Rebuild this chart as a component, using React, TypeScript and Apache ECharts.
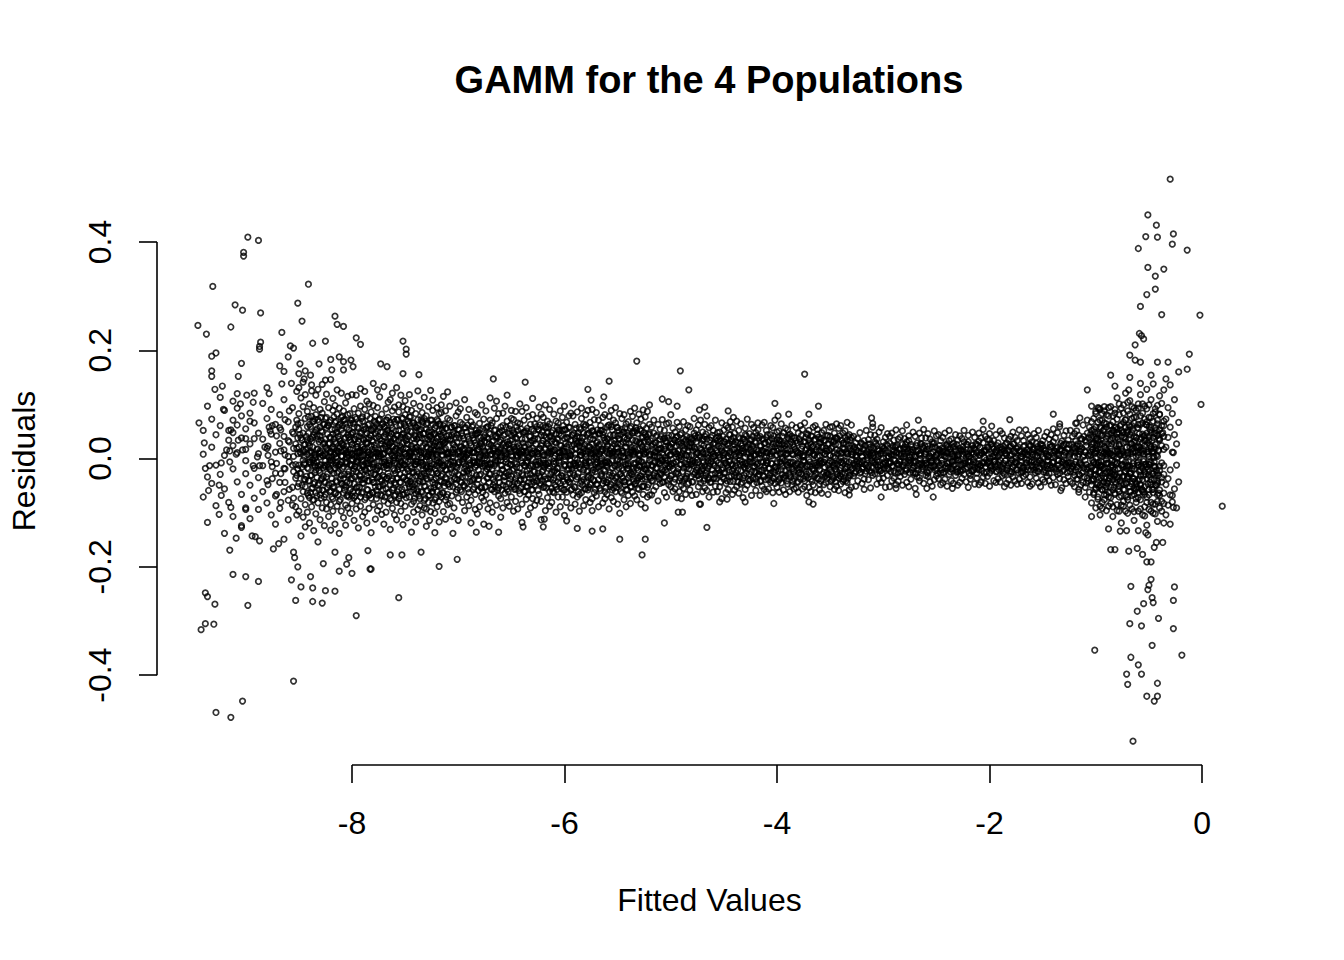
import React, { useEffect, useRef } from "react";
import * as echarts from "echarts";

const TITLE = "GAMM for the 4 Populations";
const X_NAME = "Fitted Values";
const Y_NAME = "Residuals";
const xTicks = [-8, -6, -4, -2, 0];
const yTicks = [-0.4, -0.2, 0, 0.2, 0.4];
const X_MIN = -9.835;
const X_MAX = 0.564;
const Y_MIN = -0.566;
const Y_MAX = 0.557;

// individually read points (x = fitted value, y = residual)
const leftOutliers = [
  [-8.98,.409],[-8.88,.403],[-9.02,.381],[-9.02,.374],[-9.31,.318],[-8.41,.322],[-9.10,.284],[-9.03,.274],[-8.86,.269],[-8.51,.287],[-9.45,.246],[-9.37,.230],[-9.14,.243],[-8.47,.254],[-8.16,.263],[-8.14,.248],[-8.08,.244],[-8.66,.233],[-8.86,.215],[-8.87,.207],[-8.87,.202],[-8.58,.208],[-8.55,.204],[-8.37,.213],[-8.25,.217],[-7.96,.223],[-7.92,.211],[-9.28,.195],[-9.32,.189],[-9.04,.176],[-8.60,.188],[-8.68,.171],[-8.64,.161],[-8.49,.175],[-8.44,.162],[-8.50,.157],[-8.31,.175],[-8.20,.183],[-8.12,.188],[-8.08,.179],[-8.01,.182],[-9.32,.162],[-9.32,.152],[-9.07,.152],[-8.39,.154],[-8.45,.147],[-8.38,.136],[-8.57,.139],[-8.66,.138],[-8.25,.145],[-8.19,.164],[-8.08,.164],[-7.99,.170],[-9.22,.134],[-9.29,.128],[-9.08,.120],[-8.99,.117],[-8.78,.120],[-9.12,.106],[-9.05,.101],[-8.93,.104],[-9.21,.091],[-9.44,.066],[-9.08,.062],[-9.14,.053],[-9.12,.048],[-8.96,.069],[-8.78,.058],[-8.77,.051],[-9.39,.029],[-9.07,.034],[-9.00,.037],[-8.92,.037],[-9.18,.016],[-9.15,.014],[-9.03,.016],[-9.09,.008],[-8.82,.021],[-9.23,-.008],[-9.15,-.006],[-9.34,-.013],[-9.38,-.018],[-9.00,-.004],[-8.89,.003],[-8.93,-.013],[-8.87,-.013],
  [-9.25,-.049],[-9.35,-.059],[-9.23,-.068],[-9.14,-.090],[-9.25,-.103],[-9.00,-.094],[-9.04,-.127],[-9.09,-.147],[-9.15,-.169],[-8.94,-.143],[-8.91,-.144],[-8.87,-.152],[-8.74,-.167],[-8.69,-.157],[-8.64,-.149],[-8.55,-.173],[-8.54,-.183],[-8.51,-.200],[-8.32,-.154],[-8.16,-.173],[-8.27,-.194],[-8.03,-.183],[-8.05,-.195],[-8.12,-.208],[-8.00,-.212],[-7.85,-.170],[-7.83,-.204],[-9.12,-.214],[-9.00,-.218],[-8.88,-.227],[-8.57,-.224],[-8.39,-.218],[-8.48,-.237],[-8.37,-.239],[-8.25,-.244],[-8.16,-.245],[-9.38,-.248],[-9.36,-.255],[-9.29,-.269],[-8.98,-.271],[-8.53,-.262],[-8.37,-.264],[-8.28,-.267],[-7.96,-.290],[-9.42,-.316],[-9.38,-.305],[-9.30,-.306],[-8.55,-.411],[-9.03,-.448],[-9.28,-.469],[-9.14,-.478],
];

const midOutliers = [
  [-7.52,.217],[-7.49,.202],[-7.49,.193],[-7.73,.175],[-7.67,.170],[-5.32,.180],[-4.91,.162],[-4.83,.127],[-5.58,.143],[-6.37,.141],[-6.67,.147],[-7.37,.155],[-7.52,.157],[-5.78,.128],[-5.75,.108],[-5.63,.114],[-5.08,.110],[-5.02,.105],[-4.94,.097],[-5.26,.090],[-4.73,.090],[-4.68,.095],
  [-6.19,-.112],[-5.98,-.115],[-5.88,-.129],[-5.74,-.134],[-5.64,-.130],[-5.48,-.149],[-5.24,-.149],[-5.27,-.178],[-5.06,-.119],[-4.66,-.127],[-4.93,-.099],[-4.89,-.099],[-4.73,-.084],[-7.18,-.199],[-7.01,-.186],[-7.35,-.173],[-7.53,-.178],[-7.64,-.178],[-7.56,-.257],[-7.82,-.204],[-6.62,-.136],[-6.71,-.125],[-6.83,-.136],[-7.05,-.138],[-7.22,-.137],[-7.27,-.114],[-6.39,-.126],[-6.20,-.126],
  [-3.74,.156],[-4.02,.102],[-3.61,.097],[-4.46,.088],[-4.41,.076],[-3.99,.079],[-3.89,.082],[-3.70,.082],[-2.67,.071],[-2.06,.069],[-1.98,.060],[-1.81,.072],[-1.40,.082],[-1.34,.064],[-1.18,.066],[-3.11,.075],[-3.10,.065],[-2.78,.062],
  [-3.32,-.067],[-3.02,-.071],[-2.53,-.071],[-2.69,-.066],[-3.66,-.084],[-3.70,-.080],[-4.03,-.083],[-4.30,-.080],[-2.88,-.055],[-2.59,-.055],[-2.35,-.055],[-1.33,-.059],[-1.16,-.062],[-4.54,-.080],[-4.47,-.075],[-4.72,-.084],
];

const rightOutliers = [
  [-0.30,.516],[-0.51,.450],[-0.43,.431],[-0.53,.410],[-0.42,.409],[-0.27,.415],[-0.28,.396],[-0.60,.388],[-0.14,.385],[-0.51,.353],[-0.36,.350],[-0.44,.337],[-0.52,.303],[-0.44,.313],[-0.58,.281],[-0.38,.266],[-0.02,.265],[-0.59,.231],[-0.57,.227],[-0.55,.221],[-0.63,.210],[-0.68,.191],[-0.63,.182],[-0.58,.178],[-0.42,.178],[-0.32,.178],[-0.12,.193],[-0.14,.165],[-0.22,.160],[-0.86,.154],[-0.34,.147],[-1.08,.127],[-0.82,.134],[-0.68,.150],[-0.69,.127],[-0.58,.139],[-0.48,.154],[-1.04,.097],[-0.97,.093],[-0.01,.100],[-1.15,.075],[-1.19,.065],[-0.37,.048],[-0.27,.011],[-0.41,.014],
  [0.19,-.088],[-0.30,-.067],[-0.28,-.080],[-0.27,-.090],[-1.04,-.107],[-0.36,-.119],[-0.88,-.130],[-0.77,-.134],[-0.71,-.133],[-0.60,-.133],[-0.53,-.137],[-0.51,-.141],[-0.43,-.155],[-0.37,-.155],[-0.45,-.164],[-0.86,-.168],[-0.82,-.168],[-0.69,-.171],[-0.61,-.166],[-0.56,-.177],[-0.52,-.191],[-0.48,-.191],[-0.48,-.223],[-0.50,-.234],[-0.51,-.242],[-0.67,-.236],[-0.26,-.237],[-0.47,-.257],[-0.46,-.266],[-0.55,-.268],[-0.27,-.262],[-0.61,-.282],[-0.41,-.295],[-0.68,-.305],[-0.57,-.309],[-0.27,-.314],[-0.47,-.345],[-1.01,-.354],[-0.67,-.367],[-0.19,-.363],[-0.60,-.381],[-0.71,-.398],[-0.57,-.398],[-0.70,-.417],[-0.42,-.415],[-0.52,-.439],[-0.42,-.439],[-0.45,-.448],[-0.65,-.522],
];

// dense band, one row per fitted-value column: [x, residuals...]
const segA = [
  [-9.40,.052,-.071,.008],[-9.36,-.034,.097,-.118],[-9.32,.021,-.046,.073],[-9.28,-.087,.044,-.012],[-9.24,.061,-.029,.113],[-9.20,-.056,.006,.089,-.138],[-9.16,.034,-.081,.052],[-9.12,-.019,.071,-.107,.024],[-9.08,.093,-.043,.011],[-9.04,-.066,.038,-.124,.079],[-9.00,.017,-.091,.055,-.028],[-8.96,-.049,.084,.027,-.111],[-8.92,.066,-.018,-.073,.121],[-8.88,-.035,.047,.009,-.094],[-8.84,.102,-.061,.036,-.013],[-8.80,-.082,.019,.074,-.041,.131],[-8.76,.045,-.104,-.006,.091],[-8.72,-.027,.063,-.069,.012,-.121],[-8.68,.081,-.044,.028,-.092,.057],[-8.64,-.061,.016,.109,-.018,.041],[-8.60,.033,-.077,.068,-.113,.004],[-8.56,-.012,.094,-.053,.049,-.086],[-8.52,.071,-.031,.019,-.104,.124],
];

const segA2 = [
  [-8.79,.023,-.048,.006],[-8.75,-.015,.061,-.037],[-8.71,.042,-.009,-.066],[-8.67,-.028,.014,.053,-.081],[-8.63,.007,-.044,.072,-.019],[-8.59,-.057,.031,-.006,.088],[-8.55,.019,-.073,.046,-.024,.004],[-8.53,-.036,.058,-.011,.027,-.089],[-8.51,.064,-.019,.038,-.052,.009],
];

const segB = [
  [-8.50,.021,-.046,.083,-.012,.131,-.097,.054],[-8.48,-.028,.066,-.074,.009,-.143,.112,.038],[-8.46,.047,-.061,.015,.096,-.108,-.003,.141],[-8.44,-.039,.074,-.085,.026,.118,-.052,-.126],[-8.42,.008,-.017,.059,-.099,.087,-.064,.035],[-8.40,.101,-.041,.023,-.072,-.119,.063,-.006],[-8.38,-.055,.032,.078,-.089,.011,.125,-.031],[-8.36,.069,-.008,-.047,.044,-.133,.094,-.076],[-8.34,-.021,.052,.117,-.063,.003,-.102,.081],[-8.32,.036,-.082,-.014,.072,.128,-.049,.018],[-8.30,-.067,.011,.058,-.113,.091,-.026,.042],[-8.28,.084,-.037,.006,-.091,.049,.137,-.058],[-8.26,-.012,.063,-.071,.029,-.124,.105,-.044],[-8.24,.057,-.093,.019,.076,-.034,-.081,.119],[-8.22,-.048,.027,.094,-.016,.061,-.107,.003],
  [-8.20,.013,-.059,.071,-.085,.039,.146,-.022,-.132],[-8.18,-.074,.045,-.004,.089,-.053,.022,.111,-.097],[-8.16,.031,-.018,.067,-.121,.008,-.065,.098,.054],[-8.14,-.043,.082,.014,-.088,.127,-.027,.049,-.006],[-8.12,.062,-.011,-.079,.036,.093,-.057,-.138,.019],[-8.10,-.031,.053,.004,-.097,.076,.121,-.046,.028],[-8.08,.088,-.064,.025,-.015,.047,-.109,.071,-.037],[-8.06,-.007,.039,-.086,.103,-.052,.017,.064,-.123],[-8.04,.044,-.029,.081,-.068,.012,-.091,.115,.006],[-8.02,-.058,.017,.066,-.011,-.101,.083,.034,-.045],[-8.00,.026,-.083,.009,.071,-.036,.118,-.069,.048],[-7.98,-.019,.058,-.047,.092,.004,-.114,.035,-.072],[-7.96,.073,-.024,.041,-.093,.117,-.006,-.054,.021],[-7.94,-.061,.032,-.002,.084,-.128,.056,.013,-.039],[-7.92,.015,-.071,.097,-.033,.048,-.088,.129,.002],[-7.90,-.045,.069,.021,-.107,.077,-.014,.037,-.062],[-7.88,.091,-.038,-.076,.018,.059,.124,-.021,-.099],[-7.86,-.004,.047,-.057,.079,-.119,.028,.106,-.032],[-7.84,.038,-.092,.012,.064,-.041,.101,-.068,-.009],[-7.82,-.073,.024,.086,-.027,.053,-.137,.007,.043],[-7.80,.055,-.016,-.063,.098,.031,-.085,.139,-.044],[-7.78,-.029,.078,.003,-.052,-.112,.046,.019,.067],[-7.76,.011,-.067,.051,-.018,.094,.127,-.096,-.035],[-7.74,-.052,.036,-.088,.073,.009,-.023,.114,.057],[-7.72,.082,-.041,.027,-.103,.062,-.007,-.069,.033],[-7.70,-.016,.059,-.034,.008,.133,-.078,.041,-.121],[-7.68,.045,-.099,.071,-.056,.018,.092,-.012,-.038],[-7.66,-.064,.014,.104,-.027,.052,-.083,.029,.076],[-7.64,.029,-.048,-.005,.067,-.131,.041,.109,-.074],[-7.62,-.037,.088,.022,-.092,.006,.056,-.058,.121],[-7.60,.068,-.022,-.069,.037,.095,-.104,.014,-.045],[-7.58,-.009,.044,-.081,.019,.072,-.036,.131,-.113],[-7.56,.052,-.074,.033,-.015,.086,.001,-.057,.099],[-7.54,-.083,.021,.063,-.044,-.005,.117,-.097,.039],[-7.52,.017,-.035,.096,-.067,.045,-.122,.074,-.011],[-7.50,-.054,.081,.008,.039,-.088,.061,-.026,.107],[-7.48,.036,-.063,-.019,.091,.027,-.109,.052,-.041],[-7.46,-.071,.012,.077,-.033,.118,-.052,.004,.065],[-7.44,.089,-.047,.024,-.084,.049,.011,-.136,-.018],[-7.42,-.025,.066,-.058,.003,.102,-.079,.037,-.099],[-7.40,.041,-.011,.083,-.065,-.032,.058,-.117,.019],[-7.38,-.046,.072,.016,-.094,.061,.125,-.006,-.061],[-7.36,.007,-.087,.053,.029,-.042,.097,-.074,.044],[-7.34,-.062,.038,-.013,.085,.002,-.104,.069,-.029],[-7.32,.074,-.027,.046,-.077,.113,-.051,.011,-.091],[-7.30,-.018,.055,-.093,.021,.079,-.037,-.125,.063],[-7.28,.049,-.068,.009,.096,-.024,.035,-.081,.007],[-7.26,-.035,.017,.071,-.055,.126,-.098,.042,-.014],[-7.24,.063,-.044,-.082,.031,.004,.089,-.061,.108],[-7.22,-.076,.028,.057,-.019,-.101,.046,.015,-.048],[-7.20,.023,-.089,.094,.038,-.061,.007,-.028,.072],[-7.18,-.051,.064,-.006,.083,-.117,.025,.051,-.079],[-7.16,.085,-.032,.041,-.071,.014,-.043,.099,-.006],[-7.14,-.014,.048,-.098,.061,.027,.115,-.064,.034],[-7.12,.031,-.077,.019,-.035,.088,-.112,.056,-.021],[-7.10,-.066,.009,.074,-.047,.036,-.085,.123,.011],
];

const segC = [
  [-7.08,.034,-.052,.071,-.011,.097,-.083],[-7.06,-.026,.043,-.069,.012,-.107,.058],[-7.04,.061,-.008,.025,-.091,.046,-.038],[-7.02,-.047,.079,-.015,.038,-.062,.103],[-7.00,.009,-.073,.054,-.029,.086,-.114],[-6.98,-.058,.021,.067,-.043,.004,.092],[-6.96,.042,-.034,-.081,.016,.063,-.006],[-6.94,-.019,.057,.028,-.096,-.051,.109],[-6.92,.076,-.045,.007,.049,-.071,-.022],[-6.90,-.063,.015,.091,-.028,.036,-.087],[-6.88,.024,-.077,-.012,.068,-.119,.051],[-6.86,-.039,.062,.038,-.057,.011,-.004],[-6.84,.085,-.016,-.066,.029,-.094,.044],[-6.82,-.007,.047,-.048,.081,.017,-.102],[-6.80,.053,-.089,.022,-.031,.065,.002],[-6.78,-.072,.033,-.009,.099,-.054,.027],[-6.76,.014,-.041,.073,-.078,.039,-.121],[-6.74,-.052,.088,-.024,.006,-.067,.056],[-6.72,.037,-.011,.059,-.093,.021,-.036],[-6.70,-.029,.071,-.082,.045,.112,-.008],[-6.68,.066,-.057,.008,-.019,-.099,.031],[-6.66,-.044,.019,.093,-.061,.052,-.013],[-6.64,.008,-.086,.041,.074,-.027,.106],[-6.62,-.069,.046,-.035,.012,.083,-.054],[-6.60,.058,-.003,-.074,.034,-.108,.019],[-6.58,-.021,.084,.026,-.049,.061,-.091],[-6.56,.045,-.064,.011,.097,-.033,.004],[-6.54,-.081,.031,.069,-.016,-.057,.117],[-6.52,.019,-.046,-.088,.055,.026,-.024],[-6.50,-.033,.074,.006,-.071,.043,.089],[-6.48,.072,-.019,-.052,.021,-.097,.048],[-6.46,-.056,.039,.087,-.037,.014,-.079],[-6.44,.003,-.093,.052,.028,-.046,.066],[-6.42,-.041,.064,-.017,.101,-.065,.009],[-6.40,.087,-.028,.036,-.084,.015,-.118],[-6.38,-.012,.049,-.061,.071,-.039,.022],[-6.36,.051,-.075,.014,-.008,.094,-.051],[-6.34,-.067,.026,.078,-.044,.003,-.103],[-6.32,.029,-.013,-.091,.063,.041,-.029],[-6.30,-.036,.081,.019,-.058,.111,-.074],[-6.28,.064,-.049,-.024,.037,-.086,.011],[-6.26,-.077,.012,.059,-.011,.074,-.042],[-6.24,.018,-.066,.095,-.032,-.005,.053],[-6.22,-.048,.043,-.079,.082,.024,-.113],[-6.20,.076,-.021,.033,-.053,.061,-.008],[-6.18,-.009,.058,-.096,.017,-.038,.099],[-6.16,.047,-.037,.069,-.072,.006,.027],[-6.14,-.061,.091,-.014,.041,-.088,.064],[-6.12,.032,-.081,.048,-.025,.013,-.055],[-6.10,-.024,.016,.082,-.063,.107,-.036],[-6.08,.069,-.052,-.007,.029,-.099,.046],[-6.06,-.043,.035,.066,-.018,.053,-.071],[-6.04,.011,-.089,.024,.088,-.046,.004],[-6.02,-.071,.052,-.033,.014,.076,-.027],[-6.00,.054,-.014,.097,-.058,-.105,.037],[-5.98,-.035,.067,-.062,.022,.039,-.081],[-5.96,.026,-.043,.011,.079,-.019,.058],[-5.94,-.058,.084,-.091,.034,.006,-.037],[-5.92,.079,-.026,.044,-.067,.101,-.012],[-5.90,-.013,.037,-.053,.019,-.084,.063],[-5.88,.041,-.071,.086,-.034,.028,-.002],[-5.86,-.066,.023,-.016,.057,-.097,.039],[-5.84,.006,.074,-.042,.032,-.063,.093],[-5.82,-.039,.018,.063,-.087,.047,-.021],[-5.80,.062,-.056,.009,-.011,.081,-.076],[-5.78,-.023,.089,-.035,.046,-.058,.014],[-5.76,.035,-.008,-.081,.067,.021,-.047],[-5.74,-.074,.051,.027,-.026,.091,-.096],[-5.72,.016,-.063,.072,-.041,.003,.044],[-5.70,-.048,.029,-.018,.085,-.069,.011],[-5.68,.071,-.039,.046,-.089,.024,-.016],[-5.66,-.005,.061,-.059,.013,.052,-.031],[-5.64,.044,-.082,.017,-.046,.076,.098],[-5.62,-.061,.034,.081,-.023,-.007,-.074],[-5.60,.023,-.015,-.066,.058,.037,-.044],[-5.58,-.031,.078,.008,-.093,.062,-.009],[-5.56,.059,-.048,.031,.019,-.072,.089],[-5.54,-.079,.013,-.027,.071,.043,-.054],[-5.52,.009,.066,-.061,-.014,.094,-.036],[-5.50,-.044,.042,.019,-.084,.027,.057],[-5.48,.083,-.029,-.049,.036,-.005,-.101],[-5.46,-.018,.054,.074,-.064,.014,-.033],[-5.44,.038,-.076,.003,.049,-.042,.081],[-5.42,-.057,.021,-.089,.064,.029,-.011],[-5.40,.068,-.036,.043,-.018,-.068,.006],[-5.38,-.026,.087,-.052,.011,.056,-.083],[-5.36,.014,-.062,.034,.078,-.029,.047],[-5.34,-.069,.048,-.011,-.047,.019,.093],[-5.32,.052,-.017,.066,-.076,.031,-.041],[-5.30,-.036,.029,-.057,.009,.082,-.013],[-5.28,.027,-.084,.073,-.032,-.006,.051],[-5.26,-.051,.061,.015,-.066,.039,-.024],[-5.24,.077,-.038,-.019,.044,-.091,.018],[-5.22,-.012,.035,.087,-.053,.022,-.071],[-5.20,.046,-.067,.004,.063,-.034,.099],
];

const segD = [
  [-5.18,.023,-.041,.058,-.012,-.067],[-5.16,-.031,.047,.006,-.059,.071],[-5.14,.041,-.018,-.052,.029,.012],[-5.12,-.006,.063,-.034,.017,-.078],[-5.10,.054,-.027,.019,-.046,.036],[-5.08,-.044,.011,.072,-.021,-.003],[-5.06,.017,-.063,.038,.052,-.035],[-5.04,-.025,.031,-.009,-.071,.064],[-5.02,.066,-.048,.024,-.014,.043],[-5.00,-.052,.007,-.032,.081,.021],[-4.98,.029,-.019,.056,-.061,-.008],[-4.96,-.038,.049,.013,.034,-.056],[-4.94,.008,-.072,.041,-.024,.067],[-4.92,-.061,.026,-.041,.059,.002],[-4.90,.047,-.011,.029,-.049,-.074],[-4.88,-.017,.068,-.055,.015,.037],[-4.86,.034,-.036,.007,-.066,.053],[-4.84,-.047,.014,.061,-.028,-.012],[-4.82,.059,-.058,-.003,.039,.024],[-4.80,-.009,.036,-.068,.021,-.043],[-4.78,.021,-.029,.047,-.014,.074],[-4.76,-.066,.053,-.021,.008,.031],[-4.74,.043,-.007,.062,-.052,-.031],[-4.72,-.028,.019,-.045,.071,.004],[-4.70,.012,-.061,.034,.049,-.019],[-4.68,-.054,.041,-.013,-.037,.063],[-4.66,.036,-.024,.079,.003,-.059],[-4.64,-.013,.057,-.036,.022,-.071],[-4.62,.061,-.043,.016,-.006,.039],[-4.60,-.037,.009,-.062,.052,.027],[-4.58,.026,.071,-.027,-.051,.006],[-4.56,-.061,.033,.011,-.018,.048],[-4.54,.049,-.052,.037,.002,-.031],[-4.52,-.021,.022,-.074,.066,.014],[-4.50,.011,-.038,.053,-.027,.031],[-4.48,-.046,.061,-.009,.036,-.063],[-4.46,.057,-.016,.024,-.057,.004],[-4.44,-.004,.044,-.042,.013,.068],[-4.42,.032,-.066,.058,-.023,-.011],[-4.40,-.058,.017,-.031,.047,.026],[-4.38,.019,-.034,.069,-.008,-.052],[-4.36,-.033,.052,.006,-.064,.039],[-4.34,.064,-.022,-.047,.028,.011],[-4.32,-.011,.037,.019,-.036,-.072],[-4.30,.044,-.057,.031,.056,-.018],[-4.28,-.049,.008,-.013,.073,.022],[-4.26,.027,-.041,.046,-.029,-.006],[-4.24,-.068,.063,-.024,.012,.035],[-4.22,.006,-.014,.057,-.047,.018],[-4.20,-.026,.048,-.059,.029,-.037],[-4.18,.053,-.032,.013,-.009,.066],[-4.16,-.042,.024,-.068,.041,.001],[-4.14,.015,-.051,.036,.062,-.022],[-4.12,-.057,.067,-.017,-.033,.028],[-4.10,.039,-.008,.052,-.061,.011],[-4.08,-.018,.031,-.039,.017,-.056],[-4.06,.061,-.044,.009,.044,-.027],[-4.04,-.035,.013,-.063,.027,.057],[-4.02,.022,-.026,.071,-.015,-.046],[-4.00,-.053,.049,-.006,.035,.014],[-3.98,.034,-.062,.027,-.039,.051],[-3.96,-.009,.018,-.045,.064,-.021],[-3.94,.048,-.035,.011,-.058,.029],[-3.92,-.031,.056,-.023,.007,-.066],[-3.90,.016,-.047,.039,.053,-.012],[-3.88,-.061,.027,-.008,-.031,.045],[-3.86,.041,-.019,.062,-.049,.009],[-3.84,-.024,.038,-.056,.021,-.037],[-3.82,.057,-.054,.014,-.011,.033],[-3.80,-.043,.011,.047,-.027,-.062],[-3.78,.009,.061,-.038,.031,-.016],[-3.76,-.056,.023,-.019,.054,.004],[-3.74,.031,-.041,.066,-.007,-.052],[-3.72,-.014,.046,-.029,.018,-.068],[-3.70,.052,-.024,.035,-.053,.012],[-3.68,-.038,.014,-.061,.042,.026],[-3.66,.023,-.049,.009,-.019,.058],[-3.64,-.063,.036,-.013,.061,-.029],[-3.62,.045,-.011,.054,-.036,.003],[-3.60,-.021,.029,-.047,.015,-.058],[-3.58,.037,-.064,.021,.048,-.009],[-3.56,-.048,.052,-.026,-.006,.033],[-3.54,.014,-.031,.063,-.044,.019],[-3.52,-.029,.043,-.012,.027,-.066],[-3.50,.058,-.052,.006,-.021,.041],[-3.48,-.007,.022,-.039,.059,-.033],[-3.46,.033,-.057,.047,-.013,.011],[-3.44,-.051,.016,-.024,.038,.064],[-3.42,.026,-.036,.056,-.059,-.004],[-3.40,-.034,.061,-.017,.009,-.047],[-3.38,.047,-.009,.028,-.042,.019],[-3.36,-.019,.039,-.063,.051,-.026],[-3.34,.008,-.044,.034,-.015,.067],[-3.32,-.058,.024,-.007,.044,-.031],[-3.30,.039,-.021,.062,-.053,.013],
];

const segE = [
  [-3.28,.018,-.032,.041,-.009],[-3.26,-.024,.029,-.051,.006],[-3.24,.037,-.014,.013,-.041],[-3.22,-.006,.048,-.027,.022],[-3.20,.027,-.046,.004,-.019],[-3.18,-.038,.016,.033,-.057],[-3.16,.052,-.023,-.011,.009],[-3.14,-.015,.035,-.039,.026],[-3.12,.006,-.054,.021,.044],[-3.10,-.031,.011,-.017,.058],[-3.08,.043,-.028,.031,-.006],[-3.06,-.047,.024,-.003,.036],[-3.04,.014,-.037,.049,-.021],[-3.02,-.022,.057,-.044,.008],[-3.00,.031,-.011,.019,-.036],[-2.98,-.053,.039,-.008,.015],[-2.96,.024,-.019,.046,-.031],[-2.94,-.009,.028,-.052,.041],[-2.92,.047,-.041,.007,-.014],[-2.90,-.036,.013,.034,-.023],[-2.88,.011,-.048,.023,.053],[-2.86,-.026,.036,-.012,-.042],[-2.84,.039,-.006,-.033,.018],[-2.82,-.014,.051,.026,-.049],[-2.80,.021,-.029,.009,.037],[-2.78,-.044,.018,-.021,.031],[-2.76,.033,-.052,.042,-.003],[-2.74,-.007,.026,-.038,.012],[-2.72,.049,-.017,.016,-.026],[-2.70,-.028,.041,-.055,.004],[-2.68,.016,-.034,.029,-.013],[-2.66,-.041,.008,.047,-.035],[-2.64,.027,-.022,-.008,.038],[-2.62,-.011,.054,-.046,.019],[-2.60,.038,-.009,.013,-.031],[-2.58,-.033,.023,-.027,.046],[-2.56,.004,-.043,.036,-.016],[-2.54,-.051,.031,-.004,.021],[-2.52,.029,-.014,.051,-.039],[-2.50,-.019,.042,-.032,.007],[-2.48,.044,-.037,.017,-.008],[-2.46,-.027,.012,.033,-.048],[-2.44,.013,-.026,-.045,.039],[-2.42,-.038,.047,.004,-.018],[-2.40,.024,-.051,.027,.011],[-2.38,-.006,.033,-.029,.052],[-2.36,.036,-.019,.009,-.041],[-2.34,-.046,.021,-.013,.028],[-2.32,.017,-.031,.044,-.003],[-2.30,-.024,.006,-.049,.034],[-2.28,.042,-.044,.019,-.022],[-2.26,-.012,.037,-.036,.014],[-2.24,.031,-.008,.052,-.029],[-2.22,-.043,.026,-.018,.003],[-2.20,.008,-.053,.031,.043],[-2.18,-.031,.016,-.006,-.038],[-2.16,.049,-.023,.024,-.011],[-2.14,-.017,.039,-.047,.017],[-2.12,.026,-.036,.011,-.027],[-2.10,-.048,.047,-.021,.032],[-2.08,.011,-.013,.038,-.044],[-2.06,-.034,.029,-.008,.054],[-2.04,.041,-.046,.014,-.016],[-2.02,-.009,.021,-.033,.036],[-2.00,.034,-.027,.046,-.051],[-1.98,-.022,.009,-.014,.027],[-1.96,.018,-.041,.033,-.006],[-1.94,-.044,.044,-.024,.012],[-1.92,.029,-.011,.004,-.037],[-1.90,-.013,.051,-.043,.021],[-1.88,.046,-.032,.018,-.019],[-1.86,-.029,.014,-.052,.038],[-1.84,.007,-.021,.029,-.046],[-1.82,-.039,.036,-.009,.016],[-1.80,.023,-.049,.041,-.028],[-1.78,-.016,.027,-.034,.049],[-1.76,.039,-.006,.012,-.041],[-1.74,-.047,.019,-.021,.033],[-1.72,.014,-.038,.053,-.012],[-1.70,-.026,.042,-.046,.004],[-1.68,.033,-.017,.022,-.033],[-1.66,-.008,.053,-.029,.011],[-1.64,.044,-.044,.007,-.021],[-1.62,-.034,.024,-.051,.037],[-1.60,.012,-.013,.031,-.047],[-1.58,-.021,.046,-.006,.019],[-1.56,.028,-.036,.039,-.016],[-1.54,-.045,.011,-.024,.052],[-1.52,.019,-.052,.027,-.004],[-1.50,-.011,.033,-.039,.024],[-1.48,.041,-.021,.014,-.043],[-1.46,-.032,.049,-.013,.008],[-1.44,.006,-.041,.036,-.027],[-1.42,-.049,.022,-.018,.044],[-1.40,.031,-.008,.055,-.035],[-1.38,-.017,.038,-.048,.013],[-1.36,.048,-.029,.021,-.012],[-1.34,-.027,.016,-.037,.059],[-1.32,.014,-.054,.032,-.006],[-1.30,-.039,.043,-.021,.026],[-1.28,.027,-.011,.051,-.046],[-1.26,-.008,.034,-.033,.018],[-1.24,.052,-.042,.009,-.024],[-1.22,-.046,.026,-.014,.041],[-1.20,.019,-.031,.046,-.052],
];

const segF = [
  [-1.18,.024,-.038,.051,-.015],[-1.16,-.029,.043,-.057,.008],[-1.14,.037,-.011,.017,-.049],[-1.12,-.044,.062,-.024,.003],[-1.10,.013,-.053,.034,-.071],[-1.08,-.019,.047,-.036,.071],[-1.06,.058,-.027,.009,-.062],[-1.04,-.041,.021,-.082,.039],[-1.02,.029,-.066,.054,-.006],[-1.00,-.057,.083,-.021,.036,-.091,.011],[-0.98,.046,-.034,.067,-.075,.018,-.008],[-0.96,-.013,.058,-.049,.026,.091,-.104],[-0.94,.071,-.081,.004,-.031,.043,-.058],[-0.92,-.036,.022,-.067,.088,-.017,.054],[-0.90,.016,-.045,.037,-.096,.064,-.009],[-0.88,-.062,.079,-.027,.011,-.088,.045],[-0.86,.034,-.016,.096,-.053,.023,-.072],[-0.84,-.024,.052,-.039,.068,-.107,.006],[-0.82,.057,-.066,.014,-.021,.084,-.043],[-0.80,-.008,.039,-.085,.047,-.034,.112],[-0.78,.081,-.051,.026,-.071,.008,-.097],[-0.76,-.046,.018,.063,-.013,-.119,.041],[-0.74,.029,-.088,.049,-.032,.099,-.057],[-0.72,-.069,.072,-.006,.036,-.045,.121],[-0.70,.011,-.038,.088,-.076,.052,-.101],[-0.68,-.027,.059,-.061,.021,.107,-.014],[-0.66,.048,-.093,.017,-.042,.074,-.068],[-0.64,-.054,.031,-.114,.066,-.019,.093],[-0.62,.077,-.047,.039,-.081,.004,-.029],[-0.60,-.012,.101,-.063,.023,-.097,.056],[-0.58,.036,-.076,.063,-.031,.118,-.049],[-0.56,-.061,.045,-.018,.084,-.104,.014],[-0.54,.024,-.089,.097,-.052,.033,-.011],[-0.52,-.037,.068,-.071,.012,-.123,.128],[-0.50,.059,-.024,.041,-.094,.076,-.057],[-0.48,-.081,.018,-.039,.109,-.008,.047],[-0.46,.013,-.063,.083,-.028,.138,-.101],[-0.44,-.049,.092,-.015,.057,-.084,.026],[-0.42,.071,-.042,.004,-.116,.043,-.067],[-0.40,-.022,.116,-.058,.034,-.091,.081],[-0.38,.046,-.079,.102,-.035],[-0.36,-.064,.061,-.013,.127],[-0.34,.021,-.104,.073,-.048],[-0.32,-.037,.039,-.086,.094],[-0.30,.058,-.021,-.121,.136],[-0.28,-.068,.083,.012],[-0.26,.044,-.056,.109],[-0.24,-.091,.027,-.012],[-0.22,.067,-.043],
];

// the solid black core of the band, on the columns in between
const coreB = [
  [-8.49,.012,-.027,.044],[-8.47,-.016,.034,-.049],[-8.45,.026,-.011,-.038],[-8.43,-.033,.018,.041],[-8.41,.047,-.041,-.019,.029,.077,-.068],[-8.39,-.008,.059,-.063,.014,-.031,.036],[-8.37,.021,-.054,.039,-.002,.068,-.077],[-8.35,-.044,.006,.073,-.026,.049,-.015],[-8.33,.055,-.035,-.007,.042,-.069,.017],[-8.31,-.022,.068,-.046,.009,.031,-.058],[-8.29,.034,-.012,.051,-.073,-.039,.076],[-8.27,-.059,.027,-.017,.063,.005,-.033],[-8.25,.009,-.066,.036,-.043,.074,.022],[-8.23,-.028,.045,.016,-.054,-.011,.061],[-8.21,.067,-.019,-.061,.028,.039,-.004],[-8.19,-.037,.003,.054,-.071,.019,-.046],[-8.17,.018,-.052,.077,.036,-.027,.008],[-8.15,-.063,.029,-.008,.047,-.041,.069],[-8.13,.041,-.024,.013,-.067,.058,-.013],[-8.11,-.011,.064,-.038,.021,-.076,.032],[-8.09,.026,-.047,.061,-.018,.004,.078],[-8.07,-.049,.015,-.029,.072,.037,-.058],[-8.05,.057,-.006,.023,-.044,-.069,.011],[-8.03,-.024,.039,-.071,.006,.053,-.032],[-8.01,.071,-.056,.031,-.012,-.038,.045],[-7.99,-.003,.048,-.023,.065,-.061,.019],[-7.97,.036,-.069,.009,-.034,.076,-.014],[-7.95,-.052,.022,.058,-.007,.027,-.078],[-7.93,.011,-.031,-.053,.041,-.018,.066],[-7.91,-.039,.074,.004,-.064,.047,-.022],[-7.89,.053,-.015,.034,.017,-.046,.006],[-7.87,-.021,.037,-.072,.055,-.009,.029],[-7.85,.029,-.058,.062,-.026,.012,-.041],[-7.83,-.066,.008,-.018,.074,.044,-.003],[-7.81,.017,.052,-.039,-.011,-.063,.033],[-7.79,-.008,-.044,.069,.025,-.029,.057],[-7.77,.063,-.021,.011,-.059,.038,-.074],[-7.75,-.034,.041,-.052,.003,.071,.016],[-7.73,.005,-.067,.027,.049,-.014,-.038],[-7.71,-.057,.019,.064,-.031,.008,-.049],[-7.69,.039,-.006,-.045,.058,-.071,.024],[-7.67,-.018,.071,.031,-.012,-.036,.052],[-7.65,.048,-.033,-.062,.014,.026,-.009],[-7.63,-.041,.009,.046,-.077,.062,.031],[-7.61,.022,-.054,-.004,.037,-.019,.073],[-7.59,-.067,.034,.018,-.048,.051,-.027],[-7.57,.006,-.021,.072,-.036,-.061,.043],[-7.55,-.029,.061,-.044,.024,.009,-.069],[-7.53,.044,-.008,.028,-.057,.075,-.017],[-7.51,-.012,.047,-.066,.011,-.034,.064],[-7.49,.058,-.039,.004,.033,-.072,.019],[-7.47,-.046,.026,-.023,.069,.041,-.006],[-7.45,.013,-.061,.051,-.014,-.042,.077],[-7.43,-.035,.018,.066,-.052,.003,-.026],[-7.41,.029,-.047,-.011,.043,.061,-.073],[-7.39,-.006,.057,-.058,.021,-.024,.036],[-7.37,.051,-.028,.039,-.069,.014,-.041],[-7.35,-.061,.013,-.006,.054,-.033,.072],[-7.33,.024,-.043,.067,-.019,.046,-.011],[-7.31,-.032,.036,-.051,.008,-.074,.028],[-7.29,.066,-.016,.021,-.038,.003,-.059],[-7.27,-.019,.052,-.068,.041,.027,-.004],[-7.25,.037,-.062,.009,-.026,.071,.049],[-7.23,-.054,.024,.044,-.011,-.039,.016],[-7.21,.008,-.036,-.072,.061,.031,-.023],[-7.19,-.027,.069,.014,-.049,-.008,.041],[-7.17,.045,-.009,-.041,.026,.063,-.066],[-7.15,-.063,.031,.053,-.017,-.029,.007],[-7.13,.016,-.051,.029,.064,-.044,-.012],[-7.11,-.038,.042,-.021,.008,.056,-.071],
];

const coreC = [
  [-7.09,.011,-.028,.043,-.047,.004],[-7.07,-.019,.036,-.006,.058,-.041],[-7.05,.027,-.052,.017,-.013,.049],[-7.03,-.036,.008,.061,-.024,.021],[-7.01,.044,-.017,-.039,.031,-.058],[-6.99,-.007,.053,-.031,.014,.038],[-6.97,.022,-.044,.006,-.061,.047],[-6.95,-.049,.019,.037,-.009,-.026],[-6.93,.057,-.033,-.014,.026,.003],[-6.91,-.023,.041,-.056,.009,.062],[-6.89,.016,-.008,.029,-.042,-.019],[-6.87,-.041,.059,-.027,.044,.012],[-6.85,.034,-.053,.011,-.006,-.037],[-6.83,-.012,.024,.052,-.031,.046],[-6.81,.048,-.038,-.021,.017,-.059],[-6.79,-.029,.007,.039,-.053,.028],[-6.77,.006,-.062,.021,.055,-.014],[-6.75,-.053,.032,-.009,.013,.043],[-6.73,.039,-.019,.058,-.036,-.003],[-6.71,-.016,.047,-.044,.027,-.028],[-6.69,.025,-.057,.008,-.011,.061],[-6.67,-.038,.014,.033,-.049,.019],[-6.65,.053,-.006,-.032,.041,-.052],[-6.63,-.004,.038,-.058,.022,.011],[-6.61,.031,-.027,.016,-.044,.049],[-6.59,-.058,.051,-.013,.004,-.021],[-6.57,.014,-.041,.043,.029,-.034],[-6.55,-.027,.023,-.052,.058,.007],[-6.53,.047,-.009,.026,-.031,-.061],[-6.51,-.011,.061,-.038,.018,.033],[-6.49,.036,-.048,.004,-.022,.052],[-6.47,-.044,.017,.046,-.057,-.008],[-6.45,.021,-.031,-.016,.037,.059],[-6.43,-.059,.044,.011,-.026,.024],[-6.41,.008,-.053,.055,-.004,-.039],[-6.39,-.031,.029,-.047,.048,.013],[-6.37,.049,-.014,.021,-.061,.036],[-6.35,-.022,.056,-.029,.007,-.051],[-6.33,.017,-.036,.041,-.018,.003],[-6.31,-.047,.009,-.058,.033,.054],[-6.29,.033,-.043,.014,.051,-.024],[-6.27,-.006,.027,-.036,-.012,.045],[-6.25,.054,-.059,.037,-.027,.009],[-6.23,-.034,.018,-.009,.062,-.046],[-6.21,.012,-.024,.049,-.041,.028],[-6.19,-.052,.043,.006,-.016,-.033],[-6.17,.028,-.011,-.054,.039,.057],[-6.15,-.018,.058,.024,-.046,-.007],[-6.13,.041,-.037,.009,-.029,.019],[-6.11,-.039,.014,-.061,.052,.036],[-6.09,.005,-.049,.031,.016,-.022],[-6.07,-.026,.037,-.018,.058,-.057],[-6.05,.046,-.004,.052,-.035,.011],[-6.03,-.055,.024,-.031,.007,.042],[-6.01,.019,-.042,.013,-.058,.061],[-5.99,-.013,.053,-.047,.028,-.002],[-5.97,.038,-.021,.004,-.039,.046],[-5.95,-.044,.009,.057,-.012,-.027],[-5.93,.023,-.056,-.019,.043,.014],[-5.91,-.031,.047,.026,-.052,-.009],[-5.89,.056,-.013,-.038,.018,.032],[-5.87,-.008,.031,.048,-.027,-.061],[-5.85,.029,-.046,.007,.054,-.019],[-5.83,-.049,.021,-.034,.011,.039],[-5.81,.014,-.008,.059,-.056,.026],[-5.79,-.024,.044,-.013,.032,-.043],[-5.77,.047,-.031,.022,-.006,-.053],[-5.75,-.036,.057,-.048,.016,.004],[-5.73,.009,-.021,.036,-.039,.051],[-5.71,-.057,.013,.042,-.024,-.011],[-5.69,.031,-.047,-.007,.053,.019],[-5.67,-.014,.026,-.055,.008,.046],[-5.65,.052,-.012,.017,-.033,-.028],[-5.63,-.041,.049,-.021,.038,.006],[-5.61,.018,-.054,.031,-.008,-.043],[-5.59,-.006,.036,-.039,.061,.024],[-5.57,.043,-.026,.009,-.052,.014],[-5.55,-.032,.011,.053,-.017,-.058],[-5.53,.027,-.041,-.013,.044,.033],[-5.51,-.053,.058,.021,-.034,-.004],[-5.49,.012,-.017,.037,-.047,.052],[-5.47,-.028,.044,-.061,.006,.027],[-5.45,.049,-.036,.014,.031,-.022],[-5.43,-.011,.021,-.043,.057,-.049],[-5.41,.036,-.058,.047,-.019,.008],[-5.39,-.044,.003,.028,-.031,.041],[-5.37,.021,-.029,-.052,.016,.059],[-5.35,-.017,.051,.009,-.042,-.024],[-5.33,.057,-.046,.033,-.008,.013],[-5.31,-.035,.017,-.021,.046,-.055],[-5.29,.006,-.033,.054,-.014,.029],[-5.27,-.052,.039,-.006,.022,-.038],[-5.25,.032,-.019,.048,-.051,.009],[-5.23,-.021,.056,-.034,.012,.041],[-5.21,.044,-.009,-.027,.031,-.048],
];

const coreD = [
  [-5.19,.008,-.021,.033,-.036],[-5.17,-.014,.027,-.041,.016],[-5.15,.029,-.006,.012,-.027],[-5.13,-.032,.043,-.017,.004],[-5.11,.017,-.038,.026,-.009],[-5.09,-.004,.019,-.029,.041],[-5.07,.036,-.024,.007,-.043],[-5.05,-.021,.032,-.012,.023],[-5.03,.011,-.041,.038,-.003],[-5.01,-.037,.006,.021,-.016],[-4.99,.043,-.013,-.031,.027],[-4.97,-.009,.035,-.044,.012],[-4.95,.024,-.027,.003,.039],[-4.93,-.028,.014,-.019,.031],[-4.91,.006,-.036,.044,-.011],[-4.89,-.042,.023,.009,-.024],[-4.87,.031,-.008,-.038,.018],[-4.85,-.016,.041,.027,-.033],[-4.83,.021,-.019,.004,-.045],[-4.81,-.033,.029,-.011,.037],[-4.79,.014,-.043,.034,-.004],[-4.77,-.007,.018,-.026,.042],[-4.75,.038,-.031,.011,-.017],[-4.73,-.024,.006,.039,-.038],[-4.71,.027,-.014,-.022,.016],[-4.69,-.041,.036,-.006,.024],[-4.67,.009,-.027,.045,-.031],[-4.65,-.018,.021,-.039,.007],[-4.63,.034,-.009,.016,-.044],[-4.61,-.029,.043,-.021,.012],[-4.59,.004,-.036,.029,-.013],[-4.57,-.037,.014,-.004,.038],[-4.55,.023,-.022,.041,-.027],[-4.53,-.011,.033,-.043,.019],[-4.51,.041,-.017,.006,-.034],[-4.49,-.026,.009,.031,-.008],[-4.47,.016,-.041,-.013,.027],[-4.45,-.034,.028,.044,-.021],[-4.43,.007,-.011,-.032,.036],[-4.41,-.019,.039,.017,-.042],[-4.39,.031,-.026,.004,-.014],[-4.37,-.043,.012,-.021,.029],[-4.35,.018,-.034,.037,-.003],[-4.33,-.006,.024,-.044,.014],[-4.31,.036,-.016,.011,-.031],[-4.29,-.027,.042,-.009,.021],[-4.27,.011,-.038,.026,-.019],[-4.25,-.039,.017,.004,.034],[-4.23,.024,-.007,-.036,.041],[-4.21,-.014,.031,-.024,.006],[-4.19,.042,-.044,.016,-.011],[-4.17,-.023,.009,.038,-.029],[-4.15,.007,-.021,-.041,.023],[-4.13,-.032,.036,.013,-.006],[-4.11,.019,-.012,.029,-.039],[-4.09,-.008,.044,-.027,.011],[-4.07,.033,-.031,.004,-.018],[-4.05,-.041,.021,-.009,.037],[-4.03,.014,-.037,.042,-.024],[-4.01,-.021,.006,-.016,.028],[-3.99,.039,-.023,.019,-.042],[-3.97,-.006,.033,-.036,.009],[-3.95,.026,-.014,.041,-.029],[-3.93,-.036,.018,-.004,.024],[-3.91,.009,-.041,.027,-.011],[-3.89,-.017,.037,-.028,.043],[-3.87,.031,-.006,.014,-.034],[-3.85,-.042,.026,-.019,.007],[-3.83,.017,-.031,.038,-.013],[-3.81,-.009,.011,-.043,.029],[-3.79,.036,-.021,.006,-.026],[-3.77,-.028,.043,-.012,.018],[-3.75,.006,-.037,.031,-.004],[-3.73,-.033,.016,-.024,.039],[-3.71,.024,-.011,.044,-.036],[-3.69,-.014,.029,-.006,.012],[-3.67,.041,-.042,.021,-.019],[-3.65,-.022,.007,-.033,.034],[-3.63,.012,-.027,.017,-.008],[-3.61,-.038,.039,-.014,.023],[-3.59,.029,-.004,.036,-.041],[-3.57,-.007,.021,-.029,.011],[-3.55,.034,-.033,.008,-.016],[-3.53,-.026,.014,.042,-.037],[-3.51,.016,-.019,-.008,.027],[-3.49,-.041,.033,.019,-.024],[-3.47,.004,-.036,.031,-.012],[-3.45,-.019,.026,-.043,.038],[-3.43,.037,-.011,.009,-.029],[-3.41,-.031,.042,-.022,.014],[-3.39,.011,-.028,.034,-.006],[-3.37,-.004,.017,-.039,.029],[-3.35,.027,-.041,.013,-.018],[-3.33,-.036,.009,.041,-.025],[-3.31,.019,-.015,-.031,.035],
];

const coreE = [
  [-3.29,.007,-.018,.024],[-3.27,-.012,.021,-.027],[-3.25,.016,-.006,.003],[-3.23,-.021,.011,-.009],[-3.21,.012,-.025,.029],[-3.19,-.004,.018,-.016],[-3.17,.024,-.011,-.028],[-3.15,-.017,.006,.013],[-3.13,.009,-.022,.027],[-3.11,-.026,.015,-.004],[-3.09,.019,-.008,.006],[-3.07,-.011,.028,-.021],[-3.05,.004,-.016,.017],[-3.03,-.023,.009,-.012],[-3.01,.014,-.027,.022],[-2.99,-.006,.019,-.018],[-2.97,.026,-.013,.002],[-2.95,-.019,.004,.011],[-2.93,.008,-.024,-.007],[-2.91,-.014,.023,.016],[-2.89,.021,-.004,-.026],[-2.87,-.009,.012,.025],[-2.85,.017,-.019,-.011],[-2.83,-.024,.008,.004],[-2.81,.003,-.012,.019],[-2.79,-.018,.026,-.023],[-2.77,.011,-.007,.014],[-2.75,-.026,.017,-.004],[-2.73,.022,-.021,.007],[-2.71,-.008,.006,-.014],[-2.69,.013,-.027,.024],[-2.67,-.021,.014,-.009],[-2.65,.006,-.011,.027],[-2.63,-.015,.022,-.019],[-2.61,.024,-.004,.009],[-2.59,-.011,.017,-.025],[-2.57,.018,-.022,.003],[-2.55,-.004,.009,-.013],[-2.53,.027,-.016,.012],[-2.51,-.022,.003,.021],[-2.49,.009,-.027,-.006],[-2.47,-.013,.024,.016],[-2.45,.019,-.009,-.021],[-2.43,-.026,.013,.006],[-2.41,.004,-.014,.025],[-2.39,-.017,.021,-.008],[-2.37,.012,-.024,.017],[-2.35,-.006,.008,-.018],[-2.33,.023,-.012,.004],[-2.31,-.019,.026,-.025],[-2.29,.007,-.003,.014],[-2.27,-.024,.016,-.011],[-2.25,.016,-.021,.022],[-2.23,-.009,.011,-.004],[-2.21,.026,-.016,.008],[-2.19,-.013,.004,-.027],[-2.17,.011,-.023,.018],[-2.15,-.021,.019,-.006],[-2.13,.004,-.008,.027],[-2.11,-.016,.024,-.019],[-2.09,.021,-.013,.006],[-2.07,-.007,.009,-.022],[-2.05,.015,-.027,.013],[-2.03,-.025,.016,-.003],[-2.01,.008,-.006,.021],[-1.99,-.014,.026,-.017],[-1.97,.022,-.019,.004],[-1.95,-.004,.012,-.011],[-1.93,.017,-.024,.024],[-1.91,-.021,.006,-.007],[-1.89,.011,-.015,.016],[-1.87,-.009,.023,-.026],[-1.85,.026,-.004,.009],[-1.83,-.017,.014,-.013],[-1.81,.006,-.023,.021],[-1.79,-.024,.008,-.003],[-1.77,.014,-.011,.027],[-1.75,-.006,.019,-.021],[-1.73,.021,-.026,.006],[-1.71,-.013,.004,.014],[-1.69,.009,-.017,-.024],[-1.67,-.022,.024,.011],[-1.65,.016,-.008,-.015],[-1.63,-.004,.013,.026],[-1.61,.024,-.021,-.006],[-1.59,-.016,.007,.017],[-1.57,.006,-.026,-.011],[-1.55,-.023,.017,.022],[-1.53,.013,-.004,-.018],[-1.51,-.008,.026,.008],[-1.49,.019,-.014,-.025],[-1.47,-.026,.009,.015],[-1.45,.004,-.019,-.003],[-1.43,-.012,.021,.026],[-1.41,.023,-.007,-.016],[-1.39,-.019,.014,.006],[-1.37,.008,-.024,.019],[-1.35,-.004,.006,-.012],[-1.33,.017,-.017,.028],[-1.31,-.023,.024,-.006],[-1.29,.011,-.009,.013],[-1.27,-.015,.018,-.026],[-1.25,.026,-.013,.004],[-1.23,-.008,.011,-.019],[-1.21,.014,-.025,.021],
];

const coreF = [
  [-1.19,.011,-.021,.032,-.006],[-1.17,-.016,.027,-.038,.004],[-1.15,.023,-.009,.014,-.031],[-1.13,-.027,.036,-.012,.019],[-1.11,.006,-.034,.041,-.017],[-1.09,-.011,.024,-.045,.031],[-1.07,.038,-.016,.006,-.041],[-1.05,-.024,.044,-.029,.013],[-1.03,.017,-.038,.027,-.003],[-1.01,-.032,.009,.049,-.021],[-0.99,.026,-.048,.014,.037],[-0.97,-.007,.031,-.024,-.053],[-0.95,.043,-.014,.056,-.036],[-0.93,-.019,.052,-.043,.008],[-0.91,.031,-.027,.019,-.058],[-0.89,-.046,.013,.042,-.009],[-0.87,.009,-.036,.061,-.024],[-0.85,-.028,.047,-.012,.027],[-0.83,.051,-.053,.004,-.031],[-0.81,-.011,.024,-.046,.058],[-0.79,.036,-.019,.013,-.057],[-0.77,-.041,.061,-.027,.006],[-0.75,.014,-.034,.048,-.011],[-0.73,-.024,.007,-.058,.039],[-0.71,.047,-.046,.021,-.018],[-0.69,-.006,.036,-.033,.062],[-0.67,.028,-.061,.009,-.027],[-0.65,-.037,.019,.054,-.014],[-0.63,.012,-.042,.033,-.059],[-0.61,-.053,.057,-.008,.021],[-0.59,.021,-.024,.046,-.038],[-0.57,-.014,.039,-.056,.011],[-0.55,.041,-.031,.017,-.062],[-0.53,-.029,.063,-.011,.034],[-0.51,.008,-.047,.029,-.019],[-0.49,-.044,.024,.053,-.006],[-0.47,.033,-.057,.012,-.028],[-0.45,-.016,.046,-.039,.021],[-0.43,.052,-.021,.006,-.049],[-0.41,-.031,.037,-.064,.016],
];

// the black blob of the last population, near zero fitted value
const coreF2 = [
  [-1.04,.052,-.017,.068,-.049,.026],[-1.02,-.038,.074,-.008,.041,-.063],[-1.00,.019,-.054,.087,-.029,.058],[-0.98,-.071,.033,-.012,.094,-.046],[-0.96,.045,-.026,.071,-.088,.006],[-0.94,-.014,.083,-.057,.027,-.092],[-0.92,.066,-.043,.011,-.076,.096],[-0.90,-.052,.058,-.024,.081,-.067],[-0.88,.027,-.071,.094,-.008,-.041],[-0.86,-.083,.046,-.033,.062,.009],[-0.84,.038,-.058,.079,-.017,-.089],[-0.82,-.029,.091,-.064,.036,-.006],[-0.80,.073,-.039,.018,-.096,.054],[-0.78,-.061,.024,.101,-.034,.047],[-0.76,.009,-.086,.052,-.069,.093],[-0.74,-.047,.067,-.016,.084,-.079],[-0.72,.058,-.097,.031,-.023,.071],[-0.70,-.034,.049,-.071,.104,-.012],[-0.68,.082,-.028,.044,-.086,-.052],[-0.66,-.019,.096,-.047,.027,.061],[-0.64,.041,-.066,.076,-.037,-.098],[-0.62,-.074,.021,-.056,.089,.038],[-0.60,.063,-.041,.007,-.072,.093],[-0.58,-.048,.079,-.093,.016,-.021],[-0.56,.029,-.058,.101,-.039,.066],[-0.54,-.066,.043,-.024,.073,-.106],[-0.52,.047,-.081,.062,-.015,.092],[-0.50,-.031,.099,-.067,.034,-.011],[-0.48,.076,-.048,.021,-.097,.058],[-0.46,-.057,.039,-.084,.069,.004],[-0.44,.018,-.102,.047,-.031,.086],[-0.42,-.079,.064,-.027,.098,-.046],[-0.40,.036,-.068,.082,-.014,.053],[-0.38,-.043,.024,-.097,.061,-.008],[-0.36,.069,-.029,.041,-.083,.017],
];

// residuals lying right on the zero line
const coreZ = [
  [-8.45,.004,-.009,.013],[-8.40,-.006,.011,-.002],[-8.35,.008,-.013,.001],[-8.30,-.011,.003,.014],[-8.25,.006,-.004,-.015],[-8.20,-.002,.012,-.008],[-8.15,.010,-.012,.003],[-8.10,-.007,.005,.015],[-8.05,.002,-.010,.009],[-8.00,-.013,.007,-.001],[-7.95,.011,-.005,.004],[-7.90,-.003,.014,-.011],[-7.85,.007,-.008,.002],[-7.80,-.010,.001,.012],[-7.75,.005,-.014,.009],[-7.70,-.001,.010,-.006],[-7.65,.013,-.003,-.012],[-7.60,-.008,.006,.002],[-7.55,.003,-.011,.015],[-7.50,-.012,.009,-.004],[-7.45,.009,-.002,.006],[-7.40,-.005,.013,-.010],[-7.35,.001,-.007,.011],[-7.30,-.014,.004,-.002],[-7.25,.012,-.009,.007],[-7.20,-.004,.002,-.013],[-7.15,.006,-.012,.014],[-7.10,-.009,.008,.001],[-7.05,.003,-.005,.010],[-7.00,-.011,.012,-.007],[-6.95,.008,-.001,.004],[-6.90,-.002,.011,-.012],[-6.85,.013,-.008,.002],[-6.80,-.006,.004,-.010],[-6.75,.001,-.013,.009],[-6.70,-.010,.007,.014],[-6.65,.005,-.003,-.009],[-6.60,-.012,.010,.003],[-6.55,.009,-.006,-.001],[-6.50,-.003,.013,-.011],[-6.45,.007,-.010,.005],[-6.40,-.008,.002,.012],[-6.35,.011,-.004,-.007],[-6.30,-.001,.009,-.013],[-6.25,.004,-.012,.008],[-6.20,-.013,.006,-.002],[-6.15,.010,-.009,.013],[-6.10,-.005,.001,-.010],[-6.05,.002,-.007,.011],[-6.00,-.011,.012,.004],[-5.95,.006,-.002,-.012],[-5.90,-.009,.008,.001],[-5.85,.013,-.011,.006],[-5.80,-.004,.003,-.008],[-5.75,.008,-.013,.010],[-5.70,-.007,.005,-.001],[-5.65,.001,-.010,.014],[-5.60,-.012,.011,-.005],[-5.55,.005,-.003,.009],[-5.50,-.002,.012,-.011],[-5.45,.010,-.006,.003],[-5.40,-.010,.001,-.013],[-5.35,.007,-.009,.012],[-5.30,-.005,.006,-.002],[-5.25,.012,-.012,.008],
  [-5.20,-.003,.007],[-5.15,.005,-.008],[-5.10,-.009,.002],[-5.05,.001,-.004],[-5.00,.008,-.010],[-4.95,-.006,.009],[-4.90,.003,-.002],[-4.85,-.010,.006],[-4.80,.007,-.005],[-4.75,-.002,.010],[-4.70,.009,-.008],[-4.65,-.005,.001],[-4.60,.004,-.009],[-4.55,-.008,.007],[-4.50,.001,-.003],[-4.45,.010,-.006],[-4.40,-.004,.008],[-4.35,.006,-.010],[-4.30,-.009,.003],[-4.25,.002,-.001],[-4.20,.008,-.007],[-4.15,-.006,.010],[-4.10,.004,-.004],[-4.05,-.010,.005],[-4.00,.007,-.009],[-3.95,-.001,.002],[-3.90,.009,-.006],[-3.85,-.007,.008],[-3.80,.003,-.010],[-3.75,-.004,.004],[-3.70,.010,-.002],[-3.65,-.008,.006],[-3.60,.005,-.008],[-3.55,-.002,.009],[-3.50,.006,-.005],[-3.45,-.009,.001],[-3.40,.002,-.007],[-3.35,-.005,.010],[-3.30,.008,-.003],[-3.25,-.010,.006],[-3.20,.004,-.009],[-3.15,-.003,.002],[-3.10,.009,-.006],[-3.05,-.006,.008],[-3.00,.001,-.010],[-2.95,-.008,.004],[-2.90,.007,-.002],[-2.85,-.004,.009],[-2.80,.005,-.007],[-2.75,-.009,.003],[-2.70,.003,-.005],[-2.65,-.001,.010],[-2.60,.008,-.008],[-2.55,-.007,.001],[-2.50,.006,-.004],[-2.45,-.003,.007],[-2.40,.010,-.009],[-2.35,-.005,.005],[-2.30,.002,-.002],[-2.25,-.010,.008],[-2.20,.004,-.006],[-2.15,-.002,.009],[-2.10,.007,-.010],[-2.05,-.008,.002],[-2.00,.001,-.005],[-1.95,-.006,.006],[-1.90,.009,-.003],[-1.85,-.004,.010],[-1.80,.005,-.008],[-1.75,-.009,.001],[-1.70,.003,-.007],[-1.65,-.002,.008],[-1.60,.008,-.004],[-1.55,-.007,.005],[-1.50,.002,-.009],[-1.45,-.005,.003],[-1.40,.010,-.006],[-1.35,-.003,.009],[-1.30,.006,-.002],[-1.25,-.008,.007],
  [-1.20,.004,-.011],[-1.15,-.007,.013],[-1.10,.012,-.003],[-1.05,-.014,.006],[-1.00,.002,-.009,.014],[-0.95,-.005,.011,-.013],[-0.90,.009,-.002,.005],[-0.85,-.012,.007,-.004],[-0.80,.014,-.008,.001],[-0.75,-.003,.012,-.011],[-0.70,.006,-.014,.009],[-0.65,-.009,.003,.013],[-0.60,.011,-.006,-.012],[-0.55,-.001,.008,-.005],[-0.50,.013,-.011,.004],[-0.45,-.006,.002,-.014],
];

function expand(rows: number[][]): number[][] {
  return rows.flatMap((r) => r.slice(1).map((y) => [r[0], y]));
}

const FONT = "'Liberation Sans', Arial, Helvetica, sans-serif";

export default function App() {
  const ref = useRef<HTMLDivElement>(null);

  useEffect(() => {
    if (!ref.current) return;
    const chart = echarts.init(ref.current, undefined, { renderer: "svg" });
    const points = [
      ...expand(segA), ...expand(segA2), ...expand(segB), ...expand(segC), ...expand(segD), ...expand(segE), ...expand(segF),
      ...expand(coreB), ...expand(coreC), ...expand(coreD), ...expand(coreE), ...expand(coreF), ...expand(coreF2), ...expand(coreZ),
      ...leftOutliers, ...midOutliers, ...rightOutliers,
    ];
    const tickStyle = { color: "#000", width: 1.6 };
    chart.setOption({
      animation: false,
      backgroundColor: "#fff",
      title: {
        text: TITLE,
        left: 709,
        top: 61,
        padding: 0,
        textAlign: "center",
        textStyle: { fontFamily: FONT, fontSize: 38, fontWeight: "bold", color: "#000" },
      },
      grid: { left: 157, right: 82, top: 157, bottom: 195 },
      xAxis: {
        type: "value",
        min: X_MIN,
        max: X_MAX,
        axisLine: { show: false, onZero: false },
        splitLine: { show: false },
        axisTick: { show: true, length: 18, customValues: xTicks, lineStyle: tickStyle },
        axisLabel: {
          customValues: xTicks,
          margin: 42,
          fontSize: 32,
          fontFamily: FONT,
          color: "#000",
          formatter: (v: number) => String(v),
        },
        name: X_NAME,
        nameLocation: "middle",
        nameGap: 119,
        nameTextStyle: { fontSize: 32, fontFamily: FONT, color: "#000" },
      },
      yAxis: {
        type: "value",
        min: Y_MIN,
        max: Y_MAX,
        axisLine: { show: false, onZero: false },
        splitLine: { show: false },
        axisTick: { show: true, length: 18, customValues: yTicks, lineStyle: tickStyle },
        axisLabel: {
          customValues: yTicks,
          rotate: 90,
          margin: 41,
          fontSize: 32,
          fontFamily: FONT,
          color: "#000",
          formatter: (v: number) => v.toFixed(1),
        },
        name: Y_NAME,
        nameLocation: "middle",
        nameRotate: 90,
        nameGap: 117,
        nameTextStyle: { fontSize: 32, fontFamily: FONT, color: "#000" },
      },
      series: [
        {
          type: "scatter",
          data: points,
          symbol: "circle",
          symbolSize: 5.5,
          large: false,
          progressive: 0,
          itemStyle: { color: "rgba(0,0,0,0)", borderColor: "#000", borderWidth: 1.7 },
          emphasis: { disabled: true },
        },
      ],
    });

    const f = { gridIndex: 0 };
    const xa = chart.convertToPixel(f, [xTicks[0], Y_MIN]) as number[];
    const xb = chart.convertToPixel(f, [xTicks[xTicks.length - 1], Y_MIN]) as number[];
    const ya = chart.convertToPixel(f, [X_MIN, yTicks[0]]) as number[];
    const yb = chart.convertToPixel(f, [X_MIN, yTicks[yTicks.length - 1]]) as number[];
    const lineStyle = { stroke: "#000", lineWidth: 1.6 };
    chart.setOption({
      graphic: [
        { type: "line", shape: { x1: xa[0], y1: xa[1], x2: xb[0], y2: xb[1] }, style: lineStyle, silent: true },
        { type: "line", shape: { x1: ya[0], y1: ya[1], x2: yb[0], y2: yb[1] }, style: lineStyle, silent: true },
      ],
    });

    return () => chart.dispose();
  }, []);

  return (
    <div
      ref={ref}
      style={{ position: "absolute", left: 0, top: 0, width: 1344, height: 960, background: "#fff" }}
    />
  );
}
